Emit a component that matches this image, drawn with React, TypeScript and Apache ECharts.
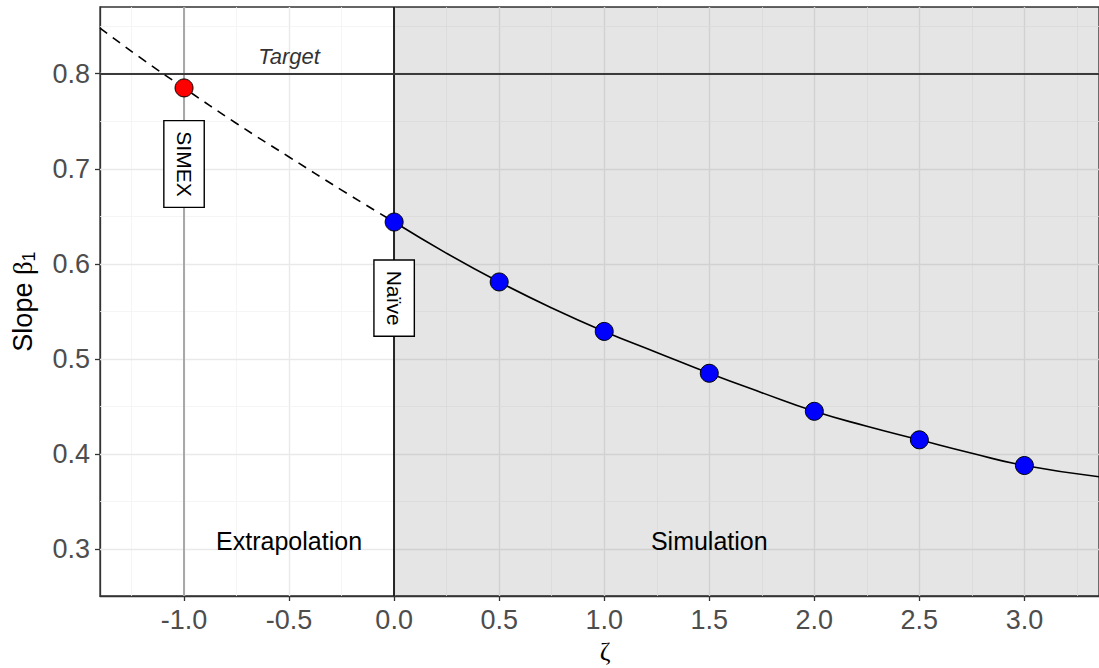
import React, { useEffect, useRef } from "react";
import * as echarts from "echarts";

// ---- data ----
const zetaSim = [0, 0.5, 1, 1.5, 2, 2.5, 3];
const betaSim = [0.644, 0.581, 0.529, 0.485, 0.445, 0.415, 0.388];
const simexZeta = -1;
const simexBeta = 0.785;

const extrapCurveX = [-1.4, -1.2, -1.0, -0.75, -0.5, -0.25, 0];
const extrapCurveY = [0.848, 0.8155, 0.785, 0.7476, 0.7124, 0.6776, 0.644];
const simCurveX = [0, 0.25, 0.5, 0.75, 1, 1.25, 1.5, 1.75, 2, 2.25, 2.5, 2.75, 3, 3.355];
const simCurveY = [0.644, 0.6111, 0.581, 0.5537, 0.529, 0.5069, 0.485, 0.4646, 0.445, 0.4293, 0.415, 0.4009, 0.388, 0.3762];

const targetBeta = 0.8;

const xTicks = [-1, -0.5, 0, 0.5, 1, 1.5, 2, 2.5, 3];
const xMinor = [-1.25, -0.75, -0.25, 0.25, 0.75, 1.25, 1.75, 2.25, 2.75, 3.25];
const yTicks = [0.3, 0.4, 0.5, 0.6, 0.7, 0.8];
const yMinor = [0.35, 0.45, 0.55, 0.65, 0.75, 0.85];

const xMin = -1.4;
const xMax = 3.355;
const yMin = 0.2508;
const yMax = 0.8701;

const boxLabels = [
  { x: -1, y: 0.705, text: "SIMEX" },
  { x: 0, y: 0.564, text: "Naïve" },
];
const regionLabels = [
  { x: -0.5, y: 0.3086, text: "Extrapolation" },
  { x: 1.5, y: 0.3086, text: "Simulation" },
];
const targetLabel = { x: -0.5, y: 0.818, text: "Target" };

const SANS = "'Liberation Sans', Arial, sans-serif";

export default function App() {
  const ref = useRef<HTMLDivElement>(null);

  useEffect(() => {
    if (!ref.current) return;
    const chart = echarts.init(ref.current, null, { renderer: "svg" });

    const gridLines: any[] = [];
    xTicks.forEach((v) => gridLines.push({ xAxis: v, lineStyle: { color: "#e9e9e9", width: 1.4, type: "solid" } }));
    xMinor.forEach((v) => gridLines.push({ xAxis: v, lineStyle: { color: "#f3f3f3", width: 0.8, type: "solid" } }));
    yTicks.forEach((v) => gridLines.push({ yAxis: v, lineStyle: { color: "#e9e9e9", width: 1.4, type: "solid" } }));
    yMinor.forEach((v) => gridLines.push({ yAxis: v, lineStyle: { color: "#f3f3f3", width: 0.8, type: "solid" } }));

    const option: any = {
      animation: false,
      backgroundColor: "#ffffff",
      grid: {
        left: 100,
        top: 7,
        width: 999,
        height: 589,
        show: true,
        borderColor: "#333333",
        borderWidth: 1.3,
        backgroundColor: "#ffffff",
        containLabel: false,
      },
      xAxis: {
        type: "value",
        min: xMin,
        max: xMax,
        splitLine: { show: false },
        axisLine: { show: true, onZero: false, lineStyle: { color: "#333333", width: 1.3 } },
        axisTick: { show: true, length: 5, customValues: xTicks, lineStyle: { color: "#333333", width: 1.3 } },
        axisLabel: {
          customValues: xTicks,
          formatter: (v: number) => v.toFixed(1),
          color: "#4d4d4d",
          fontSize: 27,
          fontFamily: SANS,
          margin: 10,
        },
      },
      yAxis: {
        type: "value",
        min: yMin,
        max: yMax,
        splitLine: { show: false },
        axisLine: { show: true, onZero: false, lineStyle: { color: "#333333", width: 1.3 } },
        axisTick: { show: true, length: 5, customValues: yTicks, lineStyle: { color: "#333333", width: 1.3 } },
        axisLabel: {
          customValues: yTicks,
          formatter: (v: number) => v.toFixed(1),
          color: "#4d4d4d",
          fontSize: 27,
          fontFamily: SANS,
          margin: 10,
        },
        name: "{t|Slope }{b|β}{s|1}",
        nameLocation: "middle",
        nameRotate: 90,
        nameGap: 62,
        nameTextStyle: {
          rich: {
            t: { fontSize: 27, fontFamily: SANS, color: "#000" },
            b: { fontSize: 27, fontFamily: "'Liberation Serif', serif", color: "#000" },
            s: { fontSize: 18, fontFamily: SANS, color: "#000", padding: [12, 0, 0, 0] },
          },
        },
      },
      graphic: [
        {
          type: "text",
          x: 605,
          y: 651,
          style: {
            text: "ζ",
            fontSize: 26,
            fontFamily: "'Liberation Serif', 'DejaVu Serif', serif",
            fill: "#000",
            textAlign: "center",
            textVerticalAlign: "middle",
          },
        },
      ],
      series: [
        {
          type: "line",
          data: [],
          silent: true,
          markLine: {
            z: 1,
            silent: true,
            symbol: ["none", "none"],
            label: { show: false },
            data: gridLines,
          },
        },
        {
          type: "line",
          data: [],
          silent: true,
          markArea: {
            z: 2,
            silent: true,
            itemStyle: { color: "rgba(0,0,0,0.1)" },
            data: [[{ xAxis: 0, yAxis: yMin }, { xAxis: xMax, yAxis: yMax }]],
          },
        },
        {
          type: "line",
          data: [],
          silent: true,
          markLine: {
            z: 3,
            silent: true,
            symbol: ["none", "none"],
            label: { show: false },
            data: [
              { xAxis: simexZeta, lineStyle: { color: "#a8a8a8", width: 2, type: "solid" } },
              { xAxis: 0, lineStyle: { color: "#111111", width: 1.8, type: "solid" } },
              { yAxis: targetBeta, lineStyle: { color: "#3a3a3a", width: 1.8, type: "solid" } },
            ],
          },
        },
        {
          type: "line",
          z: 4,
          showSymbol: false,
          symbol: "none",
          smooth: 0.5,
          data: extrapCurveX.map((x, i) => [x, extrapCurveY[i]]),
          lineStyle: { color: "#000", width: 1.6, type: [9, 7] },
        },
        {
          type: "line",
          z: 4,
          showSymbol: false,
          symbol: "none",
          smooth: 0.5,
          data: simCurveX.map((x, i) => [x, simCurveY[i]]),
          lineStyle: { color: "#000", width: 1.6, type: "solid" },
        },
        {
          type: "scatter",
          z: 5,
          symbolSize: 18,
          data: zetaSim.map((x, i) => [x, betaSim[i]]),
          itemStyle: { color: "#0000ff", borderColor: "#000", borderWidth: 1, opacity: 1 },
        },
        {
          type: "scatter",
          z: 5,
          symbolSize: 18,
          data: [[simexZeta, simexBeta]],
          itemStyle: { color: "#ff0000", borderColor: "#000", borderWidth: 1, opacity: 1 },
        },
        {
          type: "scatter",
          z: 6,
          symbolSize: 0,
          silent: true,
          itemStyle: { opacity: 1 },
          data: boxLabels.map((d) => ({ name: d.text, value: [d.x, d.y] })),
          label: {
            show: true,
            position: "inside",
            formatter: "{b}",
            rotate: -90,
            fontSize: 21,
            fontFamily: SANS,
            color: "#000",
            opacity: 1,
            backgroundColor: "#fff",
            borderColor: "#000",
            borderWidth: 1.4,
            padding: [9, 10],
          },
        },
        {
          type: "scatter",
          z: 6,
          symbolSize: 0,
          silent: true,
          itemStyle: { opacity: 1 },
          data: regionLabels.map((d) => ({ name: d.text, value: [d.x, d.y] })),
          label: {
            show: true,
            position: "inside",
            formatter: "{b}",
            fontSize: 25,
            fontFamily: SANS,
            color: "#000",
            opacity: 1,
          },
        },
        {
          type: "scatter",
          z: 6,
          symbolSize: 0,
          silent: true,
          itemStyle: { opacity: 1 },
          data: [{ name: targetLabel.text, value: [targetLabel.x, targetLabel.y] }],
          label: {
            show: true,
            position: "inside",
            formatter: "{b}",
            fontSize: 22,
            fontStyle: "italic",
            fontFamily: SANS,
            color: "#333",
            opacity: 1,
          },
        },
      ],
    };

    chart.setOption(option);
    return () => chart.dispose();
  }, []);

  return (
    <div
      ref={ref}
      style={{ position: "fixed", left: 0, top: 0, width: 1099, height: 668, background: "#fff" }}
    />
  );
}
